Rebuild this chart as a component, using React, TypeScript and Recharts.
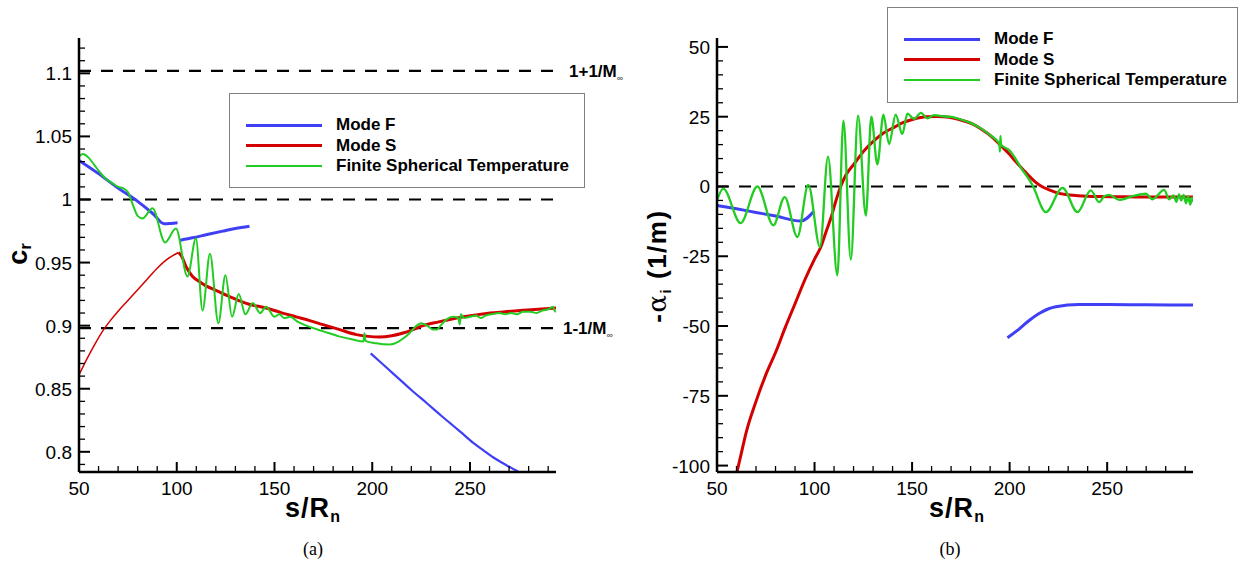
import React from 'react';
import { LineChart, Line, XAxis, YAxis, ReferenceLine, Legend } from 'recharts';

// s/Rn axis ticks (both panels)
const S_TICKS = [50, 60, 70, 80, 90, 100, 110, 120, 130, 140, 150, 160, 170, 180, 190, 200, 210, 220, 230, 240, 250, 260, 270, 280, 290];
const S_MAJOR = [50, 100, 150, 200, 250];

// c_r axis ticks (panel a)
const CR_TICKS = [0.79, 0.8, 0.81, 0.82, 0.83, 0.84, 0.85, 0.86, 0.87, 0.88, 0.89, 0.9, 0.91, 0.92, 0.93, 0.94, 0.95, 0.96, 0.97, 0.98, 0.99, 1, 1.01, 1.02, 1.03, 1.04, 1.05, 1.06, 1.07, 1.08, 1.09, 1.1, 1.11, 1.12];
const CR_MAJOR = [0.8, 0.85, 0.9, 0.95, 1, 1.05, 1.1];

// -alpha_i axis ticks (panel b)
const AL_TICKS = [-100, -95, -90, -85, -80, -75, -70, -65, -60, -55, -50, -45, -40, -35, -30, -25, -20, -15, -10, -5, 0, 5, 10, 15, 20, 25, 30, 35, 40, 45, 50];
const AL_MAJOR = [-100, -75, -50, -25, 0, 25, 50];

// 1 +/- 1/M_inf
const CR_UPPER = 1.102;
const CR_LOWER = 0.898;

// ---- panel (a): phase speed c_r ----
const crModeF1 = [[50, 1.031], [60, 1.0205], [70, 1.009], [80, 0.9985], [88, 0.9885], [93.6, 0.9807], [97, 0.981], [100.4, 0.9815]];
const crModeF2 = [[101.3, 0.9675], [104, 0.9685], [108.1, 0.9696], [115, 0.972], [123.5, 0.9749], [130, 0.977], [137.2, 0.9788]];
const crModeF3 = [[199.2, 0.878], [205, 0.87], [210, 0.863], [215, 0.856], [220, 0.849], [227.8, 0.8387], [235, 0.829], [240, 0.8225], [245, 0.816], [251.7, 0.807], [257, 0.801], [262, 0.7955], [268, 0.79], [276, 0.783]];
const crModeSThin = [[50, 0.861], [54, 0.8735], [58, 0.885], [62, 0.8955], [66, 0.904], [70, 0.9115], [75, 0.92], [80, 0.9285], [85, 0.937], [90, 0.9455], [95, 0.9525], [100.9, 0.958]];
const crModeS = [[100.9, 0.958], [102.5, 0.955], [104.7, 0.947], [108.1, 0.939], [111.5, 0.935], [115, 0.9315], [120, 0.928], [128.6, 0.922], [137, 0.917], [145.7, 0.914], [153, 0.9105], [161, 0.907], [168, 0.904], [174.8, 0.9008], [183, 0.897], [191.9, 0.8929], [198, 0.8915], [203.8, 0.891], [210, 0.892], [215.8, 0.8942], [221, 0.897], [226, 0.9], [234, 0.903], [243.2, 0.906], [251, 0.908], [260.3, 0.91], [268, 0.911], [277.3, 0.9122], [285, 0.913], [294, 0.914]];
const crFST = [[50, 1.034], [52, 1.036], [55, 1.033], [58, 1.027], [61, 1.021], [64, 1.016], [67, 1.013], [70, 1.01], [72.5, 1.009], [75, 1.006], [77.5, 0.996], [80, 0.987], [82.5, 0.985], [87.6, 0.993], [94, 0.966], [99.6, 0.977], [105.5, 0.939], [109.8, 0.969], [113.2, 0.912], [117, 0.957], [121.3, 0.902], [124.9, 0.94], [128.3, 0.907], [131.7, 0.925], [135.1, 0.909], [138.9, 0.918], [142.7, 0.91], [145.7, 0.915], [150, 0.907], [152.5, 0.909], [155, 0.906], [158, 0.907], [162, 0.903], [168, 0.899], [175, 0.8955], [183, 0.8915], [190, 0.889], [195.5, 0.8875], [196, 0.894], [196.5, 0.888], [202, 0.886], [209, 0.885], [213, 0.887], [216, 0.89], [219, 0.894], [222, 0.899], [225, 0.902], [228, 0.9], [231, 0.897], [233, 0.897], [235.5, 0.901], [238, 0.905], [241.5, 0.907], [244, 0.906], [244.8, 0.901], [245.3, 0.909], [247, 0.906], [250, 0.907], [253, 0.908], [255.5, 0.906], [258, 0.908], [261, 0.909], [265, 0.91], [268, 0.909], [271, 0.91], [274, 0.909], [277, 0.911], [281, 0.911], [284, 0.91], [287, 0.912], [290, 0.913], [292.5, 0.915], [293.2, 0.912], [294, 0.911]];

// ---- panel (b): growth rate -alpha_i (1/m) ----
const alModeF1 = [[50, -6.8], [60, -8], [70, -9.3], [80, -10.6], [92.9, -12.4], [99.7, -8.9]];
const alModeF2 = [[198.9, -54.2], [205, -51], [210, -48], [215.1, -45.5], [220, -43.8], [223.7, -43.1], [235.6, -42.3], [250, -42.3], [270, -42.4], [294, -42.5]];
const alModeS = [[60, -103], [62, -97], [65, -88], [70, -77], [75, -67.5], [80, -59.5], [85, -50.5], [90, -42], [95, -33.5], [100, -26], [103.2, -21.7], [106, -16], [108.3, -11.5], [111, -5], [113.4, 0], [116, 4], [120.3, 8.1], [125, 12.5], [130.5, 16.4], [135, 19], [140.8, 21.2], [145, 22.8], [151, 24.2], [157, 25], [163, 25.1], [169, 24.8], [175, 23.8], [180.9, 22.4], [186, 20.3], [191.2, 17.6], [195, 15], [199.7, 11.7], [203, 9], [206.6, 6.3], [210, 3.7], [213.4, 1.5], [216.5, 0], [220.3, -1.2], [224, -2.2], [228.8, -2.9], [235, -3.3], [245.9, -3.6], [260, -3.7], [275, -3.8], [294, -3.8]];
const alFST = [[50, -5], [53.2, -0.8], [62.1, -13.1], [70.7, 0], [78.9, -13.9], [84.7, -3.8], [91.2, -18.1], [96.8, 0.6], [102.8, -21.7], [106.9, 10.7], [111.7, -31.8], [114.8, 23.6], [118.6, -26.2], [122.3, 25.4], [126.3, -10.4], [129.1, 25], [132.2, 7.9], [135.3, 25.7], [138.2, 15.2], [141.6, 25.7], [145, 18.8], [147.6, 26.1], [151, 24.2], [154.5, 26.4], [157.9, 24.4], [161.3, 25.6], [165, 25.2], [170, 24.9], [175, 24], [180, 22.8], [185, 20.9], [190, 18.4], [194.8, 15.2], [195, 12.5], [195.3, 18], [195.6, 15], [200, 12.9], [203, 10], [206, 6.5], [209, 3.5], [211.7, 0.5], [218.6, -9.2], [227.1, -0.5], [234.8, -9.2], [241.6, -1.4], [245.9, -5.6], [248.5, -3.5], [251, -3], [256.2, -4.8], [263, -3.5], [269.8, -2.6], [273.2, -4.6], [279.2, -1.2], [281.8, -4.6], [284, -3.2], [285.5, -5.5], [286.8, -2.8], [288, -5], [289.2, -3], [290.4, -6], [291.5, -3.5], [292.6, -6.5], [293.5, -4], [294, -5.6]];

const BLUE = '#3f3ff6';
const RED = '#d40000';
const GREEN = '#22cc22';
const FONT = '"Liberation Sans", Arial, Helvetica, sans-serif';

const LEGEND_ITEMS = [
  { name: 'Mode F', color: BLUE, width: 3 },
  { name: 'Mode S', color: RED, width: 3 },
  { name: 'Finite Spherical Temperature', color: GREEN, width: 2 },
];

const pts = (arr: number[][]) => arr.map(([s, v]) => ({ s, v }));
const isMajor = (list: number[], v: number) => list.some((m) => Math.abs(m - v) < 1e-9);

const XTick = ({ x, y, payload }: any) => {
  const major = isMajor(S_MAJOR, payload.value);
  return (
    <g>
      <line x1={x} y1={y} x2={x} y2={y - (major ? 10 : 6)} stroke="#000" strokeWidth={major ? 2 : 1.3} />
      {major && (
        <text x={x} y={y + 23} textAnchor="middle" fontSize={19} fontFamily={FONT} fill="#000">
          {payload.value}
        </text>
      )}
    </g>
  );
};

const makeYTick = (majors: number[]) => ({ x, y, payload }: any) => {
  const major = isMajor(majors, payload.value);
  return (
    <g>
      <line x1={x} y1={y} x2={x + (major ? 11 : 6)} y2={y} stroke="#000" strokeWidth={major ? 2 : 1.3} />
      {major && (
        <text x={x - 7} y={y + 7} textAnchor="end" fontSize={19} fontFamily={FONT} fill="#000">
          {payload.value}
        </text>
      )}
    </g>
  );
};

const LegendBox = () => (
  <div style={{ width: '100%', height: '100%', boxSizing: 'border-box', border: '1.5px solid #808080', background: '#fff', position: 'relative', fontFamily: FONT }}>
    {LEGEND_ITEMS.map((it, i) => (
      <div key={it.name} style={{ position: 'absolute', left: 0, top: 21 + i * 20.5, height: 20, width: '100%' }}>
        <div style={{ position: 'absolute', left: 16, top: 10 - it.width / 2, width: 76, height: it.width, background: it.color }} />
        <span style={{ position: 'absolute', left: 106, top: 0, lineHeight: '20px', fontSize: 17, fontWeight: 'bold', color: '#000', whiteSpace: 'nowrap' }}>
          {it.name}
        </span>
      </div>
    ))}
  </div>
);

const MachLabel = ({ viewBox, text, dx }: any) => (
  <text x={viewBox.x + viewBox.width + dx} y={viewBox.y + 6} fontSize={17} fontWeight="bold" fontFamily={FONT} fill="#000">
    {text}
    <tspan fontSize={9} dy={4} fill="#666">∞</tspan>
  </text>
);

const XTitle = ({ cx, caption, cap }: { cx: number; caption: string; cap: number }) => (
  <g>
    <text x={cx} y={517} textAnchor="middle" fontSize={27} letterSpacing={1} fontWeight="bold" fontFamily={FONT} fill="#000">
      s/R<tspan fontSize={16} dy={5}>n</tspan>
    </text>
    <text x={cap} y={555} textAnchor="middle" fontSize={18} fontFamily='"Liberation Serif", "Times New Roman", serif' fill="#000">
      {caption}
    </text>
  </g>
);

const CrTitle = () => (
  <text x={27} y={254} transform="rotate(-90, 27, 254)" textAnchor="middle" fontSize={27} fontWeight="bold" fontFamily={FONT} fill="#000">
    c<tspan fontSize={16} dy={4}>r</tspan>
  </text>
);

const AlphaTitle = () => (
  <text x={45} y={266} transform="rotate(-90, 45, 266)" textAnchor="middle" fontSize={26} letterSpacing={1.5} fontWeight="bold" fontFamily={FONT} fill="#000">
    -<tspan fontWeight="normal" fontFamily='"DejaVu Serif", serif'>α</tspan>
    <tspan fontSize={15} dy={5}>i</tspan>
    <tspan dy={-5}> (1/m)</tspan>
  </text>
);

const W1 = 640;
const W2 = 621;
const H = 568;
const axisLine = { stroke: '#000', strokeWidth: 2.5 };
const dash = { stroke: '#000', strokeWidth: 2.2, strokeDasharray: '12 10' };

export default function App() {
  return (
    <div style={{ position: 'absolute', left: 0, top: 0, width: 1242, height: 568, background: '#fff', overflow: 'hidden' }}>
      <div style={{ position: 'absolute', left: 0, top: 0 }}>
        <LineChart width={W1} height={H} margin={{ top: 38, right: 84, bottom: 66, left: 0 }}>
          <XAxis
            type="number"
            dataKey="s"
            domain={[50, 294]}
            allowDataOverflow
            ticks={S_TICKS}
            interval={0}
            tickSize={0}
            tickMargin={0}
            tickLine={false}
            axisLine={axisLine}
            tick={XTick}
            height={30}
            label={() => <XTitle cx={313} caption="(a)" cap={313} />}
          />
          <YAxis
            type="number"
            dataKey="v"
            domain={[0.784, 1.128]}
            allowDataOverflow
            ticks={CR_TICKS}
            interval={0}
            tickSize={0}
            tickMargin={0}
            tickLine={false}
            axisLine={axisLine}
            tick={makeYTick(CR_MAJOR)}
            width={79}
            label={() => <CrTitle />}
          />
          <ReferenceLine y={CR_UPPER} {...dash} label={(p: any) => <MachLabel {...p} text="1+1/M" dx={13} />} />
          <ReferenceLine y={1} {...dash} />
          <ReferenceLine y={CR_LOWER} {...dash} label={(p: any) => <MachLabel {...p} text="1-1/M" dx={7} />} />
          <Line data={pts(crModeSThin)} dataKey="v" type="monotone" stroke={RED} strokeWidth={1.5} dot={false} isAnimationActive={false} />
          <Line data={pts(crModeS)} dataKey="v" type="monotone" stroke={RED} strokeWidth={3} dot={false} isAnimationActive={false} />
          <Line data={pts(crModeF1)} dataKey="v" type="monotone" stroke={BLUE} strokeWidth={3} dot={false} isAnimationActive={false} />
          <Line data={pts(crModeF2)} dataKey="v" type="monotone" stroke={BLUE} strokeWidth={3} dot={false} isAnimationActive={false} />
          <Line data={pts(crModeF3)} dataKey="v" type="monotone" stroke={BLUE} strokeWidth={2.2} dot={false} isAnimationActive={false} />
          <Line data={pts(crFST)} dataKey="v" type="monotone" stroke={GREEN} strokeWidth={2} dot={false} isAnimationActive={false} />
          <Legend
            layout="vertical"
            align="center"
            verticalAlign="middle"
            content={() => <LegendBox />}
            wrapperStyle={{ left: 229, top: 93, width: 356, height: 95 }}
          />
        </LineChart>
      </div>
      <div style={{ position: 'absolute', left: 621, top: 0 }}>
        <LineChart width={W2} height={H} margin={{ top: 38, right: 49, bottom: 66, left: 0 }}>
          <XAxis
            type="number"
            dataKey="s"
            domain={[50, 294]}
            allowDataOverflow
            ticks={S_TICKS}
            interval={0}
            tickSize={0}
            tickMargin={0}
            tickLine={false}
            axisLine={axisLine}
            tick={XTick}
            height={30}
            label={() => <XTitle cx={336} caption="(b)" cap={329} />}
          />
          <YAxis
            type="number"
            dataKey="v"
            domain={[-102.3, 53.2]}
            allowDataOverflow
            ticks={AL_TICKS}
            interval={0}
            tickSize={0}
            tickMargin={0}
            tickLine={false}
            axisLine={axisLine}
            tick={makeYTick(AL_MAJOR)}
            width={96}
            label={() => <AlphaTitle />}
          />
          <ReferenceLine y={0} {...dash} />
          <Line data={pts(alModeF1)} dataKey="v" type="monotone" stroke={BLUE} strokeWidth={3} dot={false} isAnimationActive={false} />
          <Line data={pts(alModeF2)} dataKey="v" type="monotone" stroke={BLUE} strokeWidth={3} dot={false} isAnimationActive={false} />
          <Line data={pts(alModeS)} dataKey="v" type="monotone" stroke={RED} strokeWidth={3} dot={false} isAnimationActive={false} />
          <Line data={pts(alFST)} dataKey="v" type="monotone" stroke={GREEN} strokeWidth={2.3} dot={false} isAnimationActive={false} />
          <Legend
            layout="vertical"
            align="center"
            verticalAlign="middle"
            content={() => <LegendBox />}
            wrapperStyle={{ left: 266, top: 7, width: 351, height: 96 }}
          />
        </LineChart>
      </div>
    </div>
  );
}
